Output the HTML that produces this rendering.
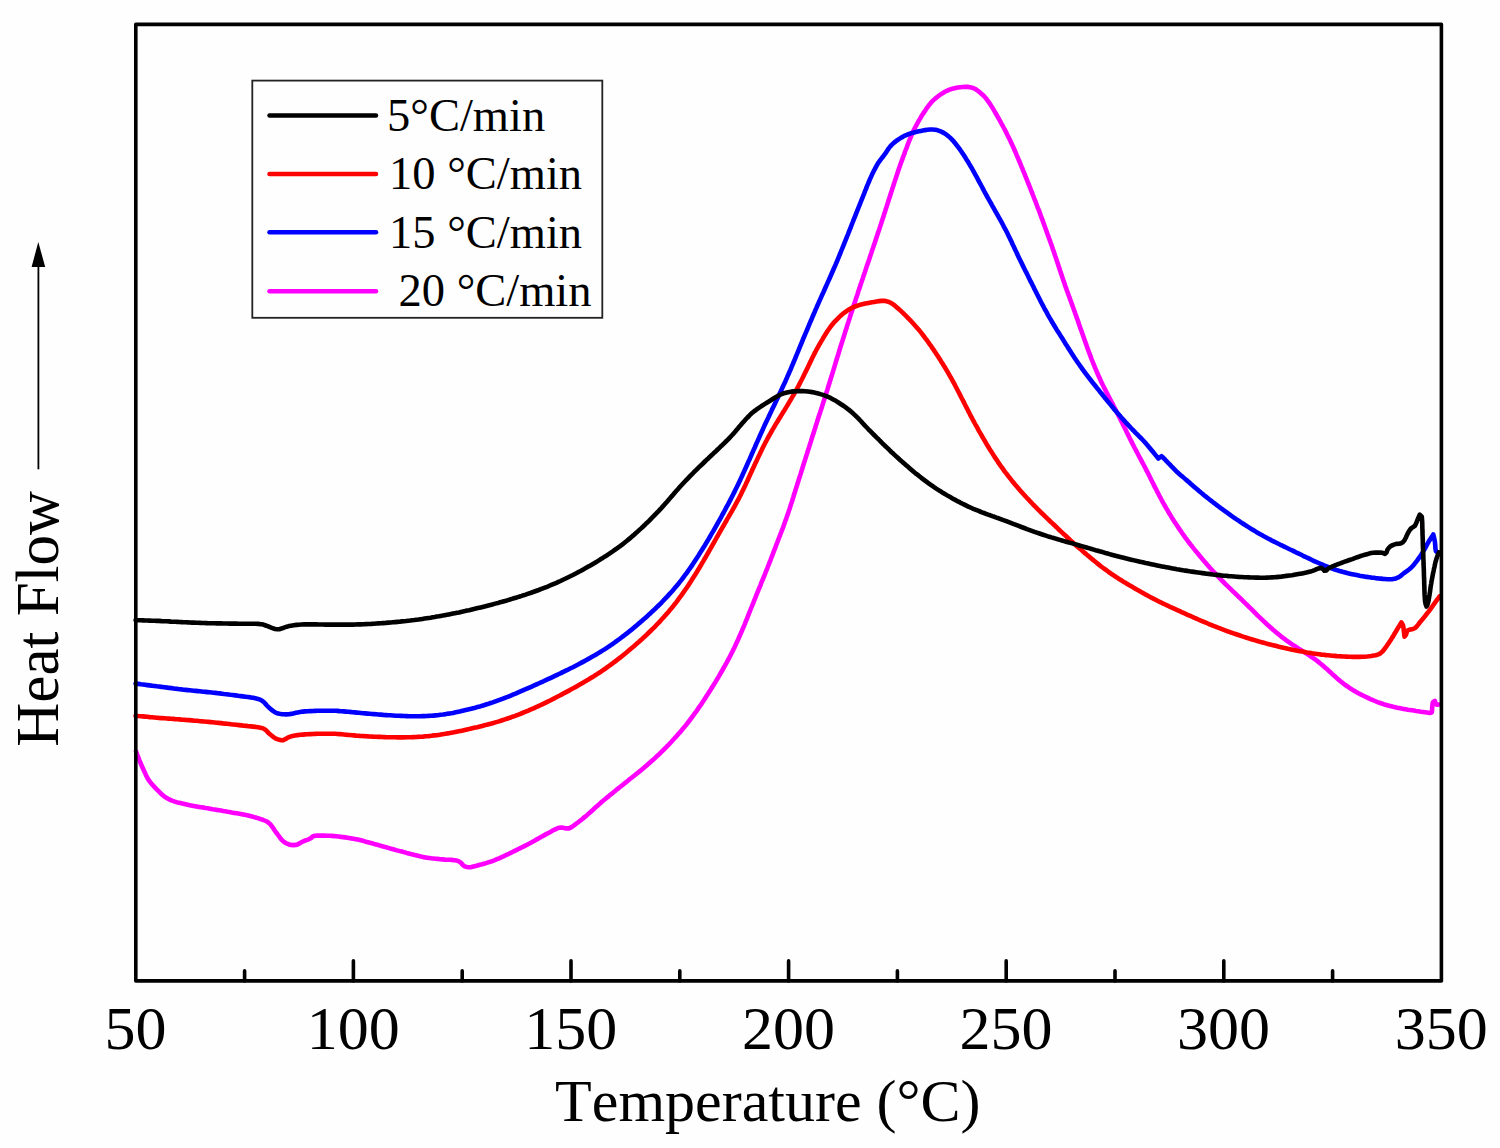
<!DOCTYPE html>
<html><head><meta charset="utf-8"><style>
html,body{margin:0;padding:0;background:#fefefe;}
svg{display:block;}
text{font-family:"Liberation Serif",serif;fill:#000;font-kerning:none;}
</style></head><body><div id="w">
<svg width="1500" height="1148" viewBox="0 0 1500 1148">
<rect x="0" y="0" width="1500" height="1148" fill="#fefefe"/>
<g fill="none" stroke-width="4.6" stroke-linejoin="round" stroke-linecap="round">
<path d="M136.0,751.3 L136.8,753.5 L137.6,755.6 L138.5,757.9 L139.3,760.0 L140.4,762.7 L141.6,765.5 L142.4,767.3 L143.3,769.3 L144.2,771.2 L145.1,773.1 L146.0,775.2 L147.0,777.1 L148.1,779.1 L149.3,780.8 L150.5,782.5 L151.8,784.1 L153.2,785.6 L154.6,787.1 L156.0,788.6 L157.5,790.1 L159.1,791.7 L160.6,793.3 L162.2,794.7 L163.8,796.1 L165.5,797.3 L168.0,798.8 L170.7,800.1 L172.8,800.9 L174.8,801.6 L177.4,802.4 L180.3,803.1 L182.4,803.6 L184.5,804.1 L186.7,804.6 L188.9,805.1 L190.9,805.5 L193.6,806.0 L196.4,806.5 L199.3,807.0 L201.3,807.3 L203.4,807.6 L205.5,808.0 L207.7,808.3 L210.0,808.7 L212.7,809.2 L214.7,809.5 L216.8,809.9 L218.9,810.2 L221.1,810.6 L223.2,811.0 L225.4,811.3 L227.5,811.7 L229.6,812.0 L231.5,812.4 L234.3,812.9 L236.7,813.3 L239.5,813.8 L241.8,814.2 L244.6,814.8 L247.2,815.3 L250.0,816.0 L252.1,816.5 L254.3,817.1 L256.5,817.8 L258.7,818.4 L260.7,819.1 L263.3,820.0 L265.7,821.0 L267.5,821.9 L269.1,823.2 L270.6,824.7 L272.4,827.0 L273.7,828.9 L274.9,830.7 L276.1,832.5 L277.4,834.2 L278.7,835.9 L280.0,837.7 L281.3,839.3 L283.3,841.3 L285.2,842.7 L287.1,843.7 L289.0,844.4 L291.1,844.9 L293.4,845.1 L295.6,844.9 L297.6,844.4 L299.5,843.4 L301.4,842.3 L303.3,841.3 L305.3,840.5 L307.3,839.8 L309.2,839.1 L311.1,838.0 L312.7,836.5 L314.8,835.8 L317.5,835.6 L319.7,835.6 L322.0,835.6 L324.1,835.6 L326.9,835.7 L329.8,835.8 L331.9,835.9 L334.0,836.1 L336.2,836.3 L338.2,836.5 L341.2,836.9 L343.2,837.1 L345.3,837.4 L347.4,837.7 L349.5,838.1 L351.6,838.4 L353.7,838.8 L355.7,839.2 L357.8,839.6 L359.8,840.1 L361.8,840.6 L363.9,841.1 L365.9,841.7 L367.9,842.2 L370.0,842.8 L372.0,843.3 L374.0,843.9 L376.1,844.4 L378.1,845.0 L380.1,845.6 L382.2,846.2 L384.2,846.8 L386.2,847.3 L388.3,847.9 L390.3,848.5 L392.2,849.0 L394.1,849.5 L396.1,850.1 L398.0,850.6 L399.9,851.1 L401.9,851.6 L403.8,852.1 L406.7,852.9 L408.7,853.4 L410.8,854.0 L412.8,854.5 L414.8,855.1 L416.9,855.6 L418.9,856.1 L420.9,856.6 L423.0,857.0 L425.0,857.4 L427.1,857.7 L429.2,858.0 L431.3,858.3 L433.4,858.5 L435.4,858.7 L437.5,858.9 L440.4,859.2 L442.5,859.4 L444.9,859.6 L447.3,859.7 L449.6,859.8 L451.7,859.9 L454.4,860.2 L456.8,860.6 L458.9,861.4 L461.4,863.2 L462.9,865.1 L464.8,866.4 L466.8,867.0 L469.1,867.3 L471.4,867.1 L474.5,866.3 L476.7,865.7 L479.1,865.0 L482.0,864.3 L484.0,863.7 L486.1,863.1 L488.2,862.4 L490.3,861.8 L492.3,861.1 L494.2,860.4 L497.0,859.2 L499.7,858.1 L501.5,857.2 L503.4,856.4 L505.2,855.5 L507.0,854.6 L508.9,853.8 L510.7,852.9 L512.5,852.0 L514.3,851.1 L516.2,850.2 L518.0,849.3 L519.8,848.4 L521.6,847.5 L523.4,846.6 L525.3,845.6 L527.1,844.7 L528.9,843.7 L530.8,842.7 L532.6,841.7 L534.5,840.7 L536.4,839.6 L538.3,838.6 L540.1,837.5 L541.9,836.5 L544.5,835.1 L546.3,834.1 L548.4,833.0 L550.4,831.9 L552.3,830.8 L554.2,829.8 L556.8,828.6 L559.2,827.7 L561.8,827.5 L564.1,827.9 L566.1,828.4 L569.0,828.4 L571.6,827.1 L573.7,825.6 L575.6,824.2 L577.9,822.5 L579.5,821.2 L581.3,819.9 L583.0,818.4 L584.9,816.9 L586.7,815.4 L588.7,813.6 L590.8,811.7 L593.1,809.7 L594.6,808.3 L596.2,806.8 L597.8,805.4 L599.4,804.0 L600.9,802.6 L602.5,801.3 L604.0,800.0 L605.6,798.7 L607.2,797.4 L608.8,796.1 L610.3,794.8 L611.9,793.6 L613.5,792.3 L615.1,791.0 L617.4,789.1 L619.7,787.3 L621.3,786.0 L622.9,784.7 L625.2,782.9 L627.6,781.0 L629.9,779.1 L632.3,777.2 L633.8,776.0 L635.4,774.7 L636.9,773.5 L639.3,771.6 L641.6,769.7 L643.9,767.8 L645.4,766.5 L646.9,765.2 L648.5,763.8 L650.0,762.5 L651.6,761.1 L653.1,759.8 L655.2,757.8 L657.4,755.7 L658.9,754.4 L660.4,753.0 L661.8,751.5 L663.3,750.1 L664.7,748.6 L666.2,747.2 L667.7,745.7 L669.1,744.2 L671.2,742.0 L673.2,739.8 L674.6,738.3 L675.9,736.9 L677.3,735.3 L678.6,733.8 L680.0,732.3 L681.3,730.7 L682.7,729.1 L684.0,727.4 L685.4,725.8 L687.2,723.5 L689.0,721.3 L690.7,718.9 L692.5,716.5 L693.7,714.9 L694.9,713.2 L696.1,711.6 L697.3,709.9 L698.5,708.1 L699.7,706.4 L701.0,704.6 L702.2,702.8 L703.3,701.1 L704.4,699.4 L705.6,697.6 L706.7,695.8 L707.9,694.0 L709.1,692.1 L710.3,690.3 L711.4,688.4 L712.6,686.6 L713.7,684.8 L714.8,683.1 L716.3,680.6 L717.7,678.2 L719.0,676.1 L720.2,673.9 L721.3,672.0 L722.8,669.5 L724.1,667.2 L725.4,664.9 L726.7,662.5 L728.1,659.9 L729.5,657.3 L730.4,655.5 L731.3,653.7 L732.3,651.8 L733.2,649.9 L734.2,648.0 L735.1,646.1 L735.9,644.3 L737.2,641.6 L738.4,638.8 L739.3,636.8 L740.1,634.9 L741.3,632.3 L742.4,629.6 L743.2,627.7 L744.1,625.7 L744.9,623.8 L745.9,621.1 L747.1,618.4 L747.8,616.4 L748.6,614.5 L749.4,612.5 L750.2,610.5 L751.0,608.5 L751.8,606.5 L752.6,604.6 L753.4,602.6 L754.1,600.7 L754.9,598.8 L755.7,596.9 L756.4,595.0 L757.2,593.1 L758.0,591.3 L758.7,589.3 L759.5,587.5 L760.3,585.6 L761.0,583.7 L761.8,581.7 L762.6,579.8 L763.4,577.9 L764.2,576.0 L765.0,574.0 L765.7,572.1 L766.5,570.2 L767.3,568.3 L768.0,566.3 L768.8,564.4 L769.5,562.5 L770.3,560.6 L771.0,558.7 L771.7,556.9 L772.5,555.0 L773.5,552.2 L774.6,549.4 L775.7,546.6 L776.7,543.8 L777.5,541.9 L778.2,540.0 L778.9,538.1 L779.7,536.2 L780.4,534.2 L781.2,532.3 L781.9,530.4 L782.7,528.4 L783.4,526.5 L784.1,524.5 L784.8,522.6 L785.5,520.6 L786.2,518.7 L787.1,516.1 L788.0,513.6 L788.8,511.1 L789.7,508.5 L790.6,505.6 L791.3,503.6 L792.0,501.4 L792.7,499.0 L793.4,496.9 L794.1,494.5 L794.9,492.0 L795.7,489.4 L796.6,486.6 L797.5,483.8 L798.1,481.8 L798.7,479.8 L799.4,477.8 L800.0,475.7 L800.7,473.7 L801.3,471.6 L802.0,469.5 L802.6,467.4 L803.3,465.3 L803.9,463.3 L804.6,461.3 L805.2,459.3 L805.8,457.3 L806.4,455.4 L807.1,453.4 L807.7,451.4 L808.3,449.4 L809.0,447.4 L809.6,445.4 L810.2,443.4 L810.9,441.4 L811.5,439.4 L812.1,437.4 L812.7,435.5 L813.4,433.6 L814.0,431.6 L814.9,428.8 L815.7,426.1 L816.6,423.4 L817.4,420.8 L818.3,418.0 L819.0,415.8 L819.7,413.8 L820.3,411.8 L821.0,409.8 L821.9,407.0 L822.7,404.3 L823.6,401.6 L824.5,398.8 L825.4,396.0 L826.0,394.1 L826.6,392.0 L827.3,389.9 L828.1,387.3 L828.9,384.7 L829.7,382.0 L830.6,379.3 L831.4,376.5 L832.3,373.7 L832.9,371.8 L833.5,369.8 L834.1,367.8 L834.7,365.8 L835.3,363.8 L835.9,361.7 L836.6,359.6 L837.2,357.5 L837.9,355.4 L838.6,353.2 L839.4,350.5 L840.2,347.8 L841.1,345.0 L842.0,342.2 L842.9,339.4 L843.5,337.5 L844.1,335.5 L844.7,333.6 L845.3,331.6 L845.9,329.7 L846.6,327.7 L847.2,325.7 L847.8,323.7 L848.5,321.7 L849.1,319.7 L849.8,317.7 L850.4,315.7 L851.0,313.8 L851.7,311.8 L852.3,309.8 L852.9,307.9 L853.6,305.9 L854.2,304.0 L854.9,301.9 L855.6,299.9 L856.2,297.9 L856.9,295.9 L857.6,293.9 L858.2,291.8 L858.9,289.8 L859.6,287.8 L860.2,285.8 L860.9,283.8 L861.6,281.8 L862.2,279.9 L862.9,277.9 L863.5,276.0 L864.5,273.2 L865.4,270.5 L866.3,267.8 L867.2,265.1 L867.8,263.2 L868.6,261.1 L869.3,259.0 L869.9,257.0 L870.6,255.0 L871.3,253.0 L871.9,251.1 L872.9,248.3 L873.8,245.6 L874.7,242.9 L875.6,240.2 L876.5,237.5 L877.4,234.8 L878.3,232.0 L879.3,229.2 L879.9,227.2 L880.6,225.3 L881.2,223.3 L881.9,221.3 L882.5,219.3 L883.2,217.3 L883.8,215.3 L884.5,213.3 L885.1,211.3 L885.7,209.3 L886.4,207.3 L887.0,205.4 L887.9,202.6 L888.8,199.8 L889.7,197.1 L890.6,194.3 L891.2,192.2 L891.9,190.2 L892.5,188.2 L893.2,186.2 L893.8,184.3 L894.4,182.4 L895.3,179.6 L896.2,176.9 L897.1,174.2 L898.0,171.5 L898.9,168.7 L899.6,166.8 L900.3,164.8 L901.0,162.7 L901.8,160.6 L902.6,158.4 L903.4,156.3 L904.2,154.2 L904.9,152.0 L905.7,150.0 L906.5,148.1 L907.5,145.3 L908.4,142.9 L909.3,140.7 L910.2,138.5 L911.3,135.9 L912.2,133.7 L913.3,131.2 L914.3,129.1 L915.5,126.8 L916.9,124.1 L917.9,122.3 L919.0,120.4 L920.1,118.6 L921.1,116.8 L922.7,114.3 L924.3,111.9 L925.6,110.0 L926.8,108.1 L928.1,106.4 L929.4,104.7 L930.7,103.1 L932.0,101.6 L933.5,100.1 L935.2,98.6 L936.9,97.2 L938.7,95.8 L940.5,94.5 L942.2,93.4 L944.9,91.8 L946.8,90.8 L949.5,89.6 L951.4,89.0 L953.5,88.4 L955.5,87.9 L957.8,87.5 L960.3,87.2 L962.7,87.0 L964.9,86.9 L967.6,86.9 L970.2,87.2 L972.9,87.9 L975.2,89.0 L977.0,90.2 L978.9,91.6 L980.8,93.2 L982.8,95.0 L984.7,96.9 L986.7,99.3 L988.8,102.2 L990.0,103.8 L991.1,105.7 L992.3,107.6 L993.7,109.9 L994.7,111.6 L995.8,113.5 L996.9,115.4 L998.1,117.5 L999.2,119.5 L1000.4,121.6 L1001.5,123.7 L1002.6,125.7 L1003.6,127.5 L1004.6,129.3 L1005.9,131.9 L1007.3,134.7 L1008.3,136.8 L1009.3,138.8 L1010.3,140.8 L1011.2,142.8 L1012.1,144.6 L1013.3,147.3 L1014.5,150.0 L1015.7,152.7 L1016.8,155.4 L1017.6,157.2 L1018.4,159.1 L1019.2,161.0 L1020.0,162.8 L1020.7,164.7 L1021.5,166.6 L1022.3,168.4 L1023.0,170.3 L1023.8,172.2 L1024.6,174.0 L1025.3,175.9 L1026.1,177.8 L1026.8,179.7 L1027.6,181.6 L1028.3,183.5 L1029.1,185.3 L1029.8,187.2 L1030.6,189.1 L1031.3,191.0 L1032.1,192.9 L1032.8,194.8 L1033.6,196.7 L1034.3,198.6 L1035.1,200.5 L1035.8,202.4 L1036.5,204.3 L1037.2,206.2 L1037.9,208.1 L1038.7,209.9 L1039.4,211.8 L1040.4,214.6 L1041.4,217.4 L1042.5,220.2 L1043.5,223.0 L1044.5,225.7 L1045.5,228.5 L1046.5,231.2 L1047.4,233.8 L1048.4,236.4 L1049.3,239.0 L1050.3,241.7 L1051.3,244.5 L1052.0,246.5 L1052.7,248.7 L1053.5,250.9 L1054.4,253.5 L1055.3,256.3 L1056.0,258.3 L1056.7,260.3 L1057.4,262.4 L1058.1,264.5 L1058.8,266.7 L1059.5,268.8 L1060.2,270.9 L1060.9,273.0 L1061.6,275.1 L1062.3,277.2 L1063.0,279.2 L1063.6,281.1 L1064.6,283.8 L1065.2,285.7 L1066.0,287.9 L1066.7,289.9 L1067.4,291.8 L1068.4,294.6 L1069.4,297.3 L1070.3,299.9 L1071.3,302.5 L1072.2,305.1 L1073.2,307.8 L1074.2,310.6 L1074.9,312.5 L1075.6,314.5 L1076.3,316.4 L1077.0,318.4 L1077.7,320.3 L1078.4,322.3 L1079.0,324.2 L1079.7,326.2 L1080.4,328.2 L1081.1,330.1 L1081.8,332.1 L1082.5,334.1 L1083.2,336.1 L1083.9,338.0 L1084.6,340.0 L1085.3,342.0 L1086.0,343.9 L1086.7,345.9 L1087.4,347.9 L1088.1,349.8 L1088.8,351.8 L1089.5,353.7 L1090.3,355.7 L1091.0,357.6 L1091.7,359.5 L1092.5,361.5 L1093.3,363.4 L1094.1,365.4 L1094.9,367.3 L1095.7,369.2 L1096.5,371.1 L1097.3,373.0 L1098.5,375.7 L1099.7,378.3 L1100.8,380.8 L1101.8,382.9 L1102.7,384.8 L1103.7,386.7 L1104.6,388.5 L1105.9,391.1 L1107.2,393.7 L1108.6,396.3 L1109.5,398.2 L1110.9,400.8 L1111.9,402.6 L1112.8,404.4 L1113.7,406.2 L1114.7,408.1 L1115.6,409.9 L1116.6,411.8 L1117.6,413.7 L1118.6,415.6 L1119.5,417.5 L1120.4,419.3 L1121.3,421.1 L1122.3,423.0 L1123.2,424.9 L1124.1,426.8 L1125.1,428.7 L1126.0,430.6 L1126.9,432.5 L1127.9,434.4 L1128.8,436.3 L1129.7,438.2 L1130.7,440.1 L1131.7,442.1 L1132.7,444.1 L1133.7,446.0 L1134.7,448.0 L1135.7,449.8 L1136.6,451.7 L1137.6,453.5 L1138.9,456.0 L1139.9,457.9 L1141.0,459.9 L1142.0,461.9 L1143.0,463.7 L1144.0,465.5 L1145.3,468.0 L1146.5,470.4 L1147.6,472.5 L1148.6,474.4 L1149.5,476.2 L1150.8,478.9 L1151.7,480.7 L1152.6,482.5 L1153.5,484.3 L1154.4,486.1 L1155.3,487.9 L1156.3,489.7 L1157.2,491.6 L1158.2,493.4 L1159.1,495.3 L1160.1,497.2 L1161.1,499.0 L1162.1,500.8 L1163.0,502.6 L1164.5,505.1 L1165.9,507.7 L1167.0,509.4 L1168.0,511.2 L1169.5,513.7 L1170.5,515.4 L1171.6,517.2 L1172.7,518.9 L1173.8,520.7 L1174.9,522.4 L1176.1,524.1 L1177.2,525.8 L1178.4,527.6 L1179.5,529.3 L1180.8,531.1 L1181.9,532.8 L1183.1,534.4 L1184.3,536.1 L1185.5,537.8 L1186.8,539.5 L1188.1,541.3 L1189.4,543.0 L1190.6,544.6 L1191.9,546.2 L1193.2,547.9 L1194.6,549.6 L1195.9,551.2 L1197.3,552.9 L1198.6,554.5 L1200.0,556.2 L1201.4,557.9 L1202.8,559.6 L1204.2,561.2 L1205.6,562.8 L1207.0,564.4 L1208.4,566.0 L1209.7,567.5 L1211.1,569.0 L1213.1,571.2 L1215.1,573.4 L1217.1,575.6 L1219.2,577.7 L1221.3,579.9 L1223.4,582.0 L1225.5,584.1 L1227.6,586.2 L1229.7,588.2 L1231.7,590.1 L1233.8,592.1 L1235.3,593.5 L1236.9,595.1 L1238.4,596.5 L1240.4,598.4 L1241.9,599.8 L1243.4,601.3 L1244.9,602.8 L1246.4,604.3 L1248.0,605.8 L1249.5,607.3 L1250.9,608.7 L1253.1,610.9 L1254.6,612.4 L1256.1,613.9 L1257.5,615.3 L1259.7,617.4 L1261.8,619.4 L1263.9,621.4 L1265.4,622.8 L1266.9,624.2 L1268.4,625.6 L1270.0,627.0 L1271.5,628.3 L1273.0,629.7 L1274.6,631.0 L1276.1,632.3 L1277.7,633.6 L1279.4,635.0 L1281.0,636.3 L1282.7,637.6 L1284.4,638.8 L1286.0,640.1 L1287.7,641.3 L1289.3,642.4 L1291.0,643.6 L1292.8,644.8 L1294.5,645.9 L1296.1,647.0 L1298.7,648.6 L1301.2,650.2 L1303.0,651.4 L1304.9,652.5 L1306.7,653.7 L1308.5,654.9 L1310.2,656.0 L1312.5,657.6 L1314.4,658.9 L1316.8,660.7 L1319.0,662.4 L1321.3,664.3 L1322.9,665.6 L1324.4,666.9 L1326.0,668.3 L1327.5,669.6 L1329.0,671.0 L1330.6,672.4 L1332.1,673.9 L1333.6,675.3 L1335.2,676.6 L1336.7,678.0 L1338.9,679.9 L1340.5,681.2 L1342.1,682.5 L1343.7,683.8 L1346.1,685.5 L1347.8,686.7 L1349.5,687.9 L1351.2,689.0 L1353.8,690.6 L1355.7,691.6 L1357.5,692.7 L1359.4,693.7 L1361.1,694.6 L1363.9,696.0 L1365.7,696.9 L1368.5,698.2 L1370.4,699.1 L1372.3,699.9 L1374.9,701.0 L1377.6,702.1 L1379.5,702.8 L1381.6,703.5 L1383.6,704.2 L1386.3,705.0 L1389.2,705.8 L1391.2,706.3 L1393.2,706.8 L1395.2,707.2 L1397.2,707.7 L1399.2,708.1 L1401.4,708.5 L1403.5,708.9 L1405.6,709.3 L1407.8,709.7 L1409.8,710.0 L1411.9,710.3 L1413.9,710.6 L1416.0,711.0 L1418.4,711.3 L1420.9,711.7 L1423.3,712.0 L1425.5,712.3 L1428.3,712.7 L1429.6,712.9 L1429.6,712.9 L1431.7,712.4 L1432.1,709.8 L1432.2,707.5 L1432.4,705.1 L1432.8,702.4 L1434.9,700.9 L1435.5,703.4 L1436.9,704.8 L1439.0,704.5" stroke="#ff00ff"/><path d="M135.6,683.6 L138.2,683.9 L140.9,684.3 L142.9,684.5 L145.0,684.8 L147.3,685.1 L149.6,685.4 L152.0,685.7 L154.4,686.0 L156.8,686.3 L158.8,686.5 L161.6,686.9 L164.5,687.2 L167.4,687.6 L169.4,687.9 L171.5,688.1 L173.5,688.4 L175.5,688.7 L177.6,688.9 L179.6,689.2 L181.7,689.4 L183.7,689.7 L185.7,689.9 L187.7,690.1 L189.7,690.3 L191.7,690.5 L193.7,690.7 L195.7,690.9 L197.7,691.1 L199.6,691.3 L201.6,691.5 L203.6,691.7 L205.6,691.9 L207.6,692.1 L209.6,692.3 L211.6,692.5 L213.6,692.7 L215.6,692.9 L217.7,693.2 L219.8,693.4 L222.0,693.7 L224.1,694.0 L226.3,694.2 L228.4,694.5 L230.5,694.8 L232.6,695.0 L235.5,695.4 L238.2,695.8 L240.7,696.1 L242.9,696.4 L245.5,696.7 L247.8,697.0 L250.7,697.4 L253.1,697.8 L255.4,698.3 L257.9,698.9 L260.6,699.9 L262.4,701.0 L264.0,702.3 L265.5,703.9 L267.1,705.7 L268.6,707.3 L270.3,708.7 L272.0,710.1 L273.7,711.4 L275.4,712.5 L277.3,713.3 L279.3,713.8 L281.3,714.1 L283.3,714.3 L285.9,714.4 L288.9,714.2 L291.0,713.9 L293.3,713.4 L295.9,712.8 L297.8,712.4 L300.1,712.0 L302.7,711.6 L305.0,711.4 L307.5,711.3 L310.2,711.1 L313.2,711.0 L315.3,710.9 L317.4,710.8 L319.6,710.8 L321.8,710.7 L324.0,710.7 L326.1,710.7 L328.3,710.7 L330.4,710.7 L333.3,710.7 L335.4,710.8 L337.5,710.9 L339.7,711.1 L341.7,711.2 L343.8,711.4 L345.8,711.6 L347.8,711.8 L349.8,711.9 L352.8,712.2 L354.8,712.4 L356.8,712.6 L358.9,712.8 L361.0,713.0 L363.1,713.2 L365.2,713.4 L367.4,713.6 L369.7,713.8 L371.8,714.0 L374.0,714.1 L376.2,714.3 L378.3,714.5 L380.3,714.6 L383.3,714.9 L386.1,715.1 L388.1,715.2 L390.2,715.3 L393.1,715.5 L395.8,715.7 L398.5,715.8 L401.3,715.9 L404.3,716.0 L406.5,716.1 L409.3,716.2 L411.3,716.2 L413.4,716.2 L415.5,716.2 L417.7,716.2 L419.9,716.2 L422.2,716.1 L424.3,716.1 L426.5,716.0 L428.6,715.9 L430.6,715.8 L433.4,715.6 L435.6,715.4 L437.6,715.2 L440.5,714.8 L443.2,714.5 L445.9,714.1 L448.7,713.6 L450.8,713.3 L453.0,712.9 L455.6,712.3 L458.5,711.7 L460.6,711.3 L462.6,710.8 L464.7,710.3 L466.9,709.8 L469.0,709.3 L471.1,708.8 L473.2,708.2 L475.2,707.7 L477.2,707.1 L480.0,706.4 L482.3,705.7 L484.6,705.0 L486.7,704.3 L488.8,703.7 L490.8,703.0 L492.7,702.4 L495.5,701.4 L498.2,700.4 L501.0,699.4 L503.0,698.7 L504.9,697.9 L507.6,696.9 L510.3,695.8 L512.9,694.7 L515.6,693.6 L518.3,692.4 L521.1,691.2 L522.9,690.4 L525.7,689.2 L527.5,688.4 L529.4,687.6 L531.2,686.8 L533.2,685.9 L535.3,684.9 L537.5,684.0 L539.6,683.0 L541.6,682.1 L543.4,681.3 L545.9,680.1 L547.9,679.2 L549.8,678.3 L552.0,677.3 L554.5,676.1 L557.1,674.9 L559.0,674.0 L560.9,673.1 L562.8,672.1 L564.9,671.1 L566.9,670.2 L568.8,669.2 L570.6,668.3 L572.9,667.2 L574.8,666.2 L576.7,665.2 L579.0,664.0 L581.6,662.6 L583.5,661.6 L585.5,660.5 L587.4,659.4 L589.4,658.4 L591.2,657.3 L593.0,656.3 L594.8,655.3 L596.6,654.2 L598.4,653.1 L600.2,652.0 L602.0,650.9 L604.5,649.4 L606.8,647.9 L608.7,646.6 L610.5,645.4 L612.8,643.8 L615.3,642.0 L617.2,640.7 L619.5,639.0 L621.8,637.2 L623.5,636.0 L625.2,634.7 L626.9,633.4 L628.6,632.0 L630.3,630.6 L632.0,629.3 L634.2,627.4 L635.8,626.1 L637.4,624.8 L638.9,623.4 L640.5,622.1 L642.1,620.7 L643.7,619.3 L645.3,617.9 L646.9,616.5 L648.4,615.1 L649.9,613.8 L651.3,612.4 L652.8,611.0 L654.3,609.6 L655.8,608.2 L657.3,606.7 L658.8,605.3 L660.3,603.8 L661.8,602.3 L663.2,600.8 L665.2,598.7 L667.2,596.6 L669.2,594.4 L671.2,592.2 L672.6,590.7 L673.9,589.1 L675.2,587.5 L676.6,585.9 L678.0,584.3 L679.7,582.1 L681.5,579.9 L683.2,577.6 L685.0,575.2 L686.8,572.8 L688.0,571.1 L689.1,569.5 L690.3,567.8 L691.5,566.1 L692.7,564.4 L693.8,562.6 L695.4,560.2 L697.0,557.7 L698.7,555.2 L699.7,553.5 L700.8,551.8 L701.9,550.1 L703.0,548.3 L704.1,546.6 L705.2,544.8 L706.2,543.0 L707.3,541.2 L708.4,539.4 L709.5,537.5 L711.0,534.9 L712.0,533.2 L713.1,531.4 L714.1,529.6 L715.2,527.7 L716.2,525.9 L717.2,524.1 L718.3,522.2 L719.3,520.4 L720.3,518.6 L721.3,516.8 L722.2,515.0 L723.7,512.5 L725.0,510.0 L725.9,508.2 L726.9,506.4 L727.9,504.6 L729.2,502.1 L730.5,499.6 L731.7,497.2 L733.0,494.7 L734.3,492.1 L735.2,490.2 L736.2,488.3 L737.2,486.3 L738.4,483.8 L739.6,481.2 L740.8,478.6 L741.7,476.7 L742.6,474.8 L743.4,472.9 L744.3,471.0 L745.2,469.0 L746.1,467.0 L747.0,465.0 L747.9,462.9 L748.8,460.9 L749.7,459.0 L750.6,456.9 L751.4,455.0 L752.3,453.1 L753.1,451.2 L753.9,449.3 L754.8,447.4 L755.6,445.5 L756.4,443.6 L757.3,441.7 L758.1,439.8 L759.0,437.9 L759.8,436.0 L760.7,434.1 L761.5,432.3 L762.7,429.6 L763.9,426.9 L765.1,424.3 L766.3,421.8 L767.5,419.2 L768.5,417.2 L769.4,415.2 L770.3,413.3 L771.2,411.4 L772.0,409.6 L773.3,407.0 L774.6,404.4 L775.8,401.8 L777.1,399.1 L778.4,396.4 L779.2,394.6 L780.1,392.7 L781.0,390.9 L781.8,389.0 L782.7,387.1 L783.5,385.3 L784.4,383.4 L785.3,381.5 L786.1,379.6 L787.0,377.7 L787.8,375.7 L788.7,373.8 L789.5,371.8 L790.4,369.9 L791.5,367.2 L792.6,364.6 L793.7,362.0 L794.8,359.4 L795.9,356.7 L797.0,354.0 L797.8,352.1 L798.6,350.2 L799.4,348.2 L800.2,346.1 L801.1,344.0 L802.0,341.8 L803.0,339.3 L804.1,336.8 L805.2,334.1 L806.4,331.4 L807.2,329.5 L808.0,327.6 L808.8,325.7 L809.6,323.7 L810.4,321.8 L811.3,319.8 L812.1,317.8 L813.0,315.8 L813.8,313.8 L814.7,311.9 L815.5,309.9 L816.4,307.9 L817.2,306.0 L818.1,304.1 L818.9,302.2 L819.7,300.4 L820.9,297.7 L822.1,294.9 L823.4,292.2 L824.6,289.5 L825.8,286.8 L827.0,284.1 L828.2,281.4 L829.4,278.7 L830.6,276.0 L831.8,273.3 L833.0,270.5 L834.2,267.8 L835.4,265.1 L836.2,263.2 L837.0,261.3 L837.8,259.3 L838.6,257.4 L839.4,255.4 L840.2,253.5 L841.0,251.5 L841.8,249.5 L842.6,247.6 L843.4,245.6 L844.2,243.7 L844.9,241.8 L845.7,239.9 L846.8,237.2 L847.9,234.5 L848.9,231.8 L849.9,229.3 L850.9,226.8 L851.7,224.7 L852.6,222.5 L853.4,220.4 L854.3,218.2 L855.1,216.2 L855.9,214.1 L856.7,212.2 L857.4,210.3 L858.5,207.7 L859.5,205.2 L860.4,202.9 L861.3,200.5 L862.3,198.2 L863.2,195.8 L864.2,193.4 L865.0,191.2 L865.9,189.1 L866.9,186.4 L868.0,183.9 L869.0,181.5 L870.0,179.0 L871.0,176.9 L871.9,174.8 L872.9,172.8 L873.8,170.9 L874.8,169.1 L876.1,166.6 L877.4,164.3 L878.5,162.6 L879.9,160.7 L881.2,158.9 L882.5,157.3 L884.1,155.1 L885.8,152.8 L887.3,150.5 L888.9,148.1 L890.3,146.4 L891.7,144.9 L893.8,142.9 L895.4,141.6 L897.3,140.2 L899.3,138.9 L901.3,137.6 L903.2,136.6 L905.0,135.6 L906.9,134.8 L908.9,134.0 L910.9,133.3 L912.9,132.8 L914.8,132.2 L916.8,131.8 L918.8,131.3 L920.8,130.9 L923.0,130.5 L925.2,130.1 L927.3,129.8 L930.1,129.5 L932.6,129.5 L935.0,129.7 L937.1,130.1 L940.0,131.1 L941.8,131.9 L944.1,133.1 L946.5,134.7 L948.3,136.1 L950.3,137.9 L951.8,139.4 L953.5,141.2 L955.2,143.3 L957.1,145.7 L958.4,147.4 L959.7,149.2 L961.0,151.0 L962.2,152.8 L963.4,154.5 L965.0,157.0 L966.0,158.7 L967.1,160.4 L968.2,162.1 L969.2,163.9 L970.3,165.7 L971.3,167.4 L972.3,169.2 L973.3,171.0 L974.3,172.7 L975.3,174.6 L976.3,176.4 L977.3,178.2 L978.3,180.1 L979.2,181.9 L980.2,183.7 L981.2,185.5 L982.2,187.3 L983.1,189.1 L984.1,191.0 L985.1,192.8 L986.1,194.6 L987.0,196.3 L988.0,198.1 L989.0,199.9 L990.0,201.6 L991.0,203.4 L992.0,205.3 L993.1,207.2 L994.2,209.1 L995.6,211.6 L996.6,213.4 L997.6,215.2 L998.7,217.1 L999.7,218.9 L1000.8,220.8 L1001.8,222.7 L1002.8,224.5 L1003.7,226.3 L1005.1,228.9 L1006.5,231.5 L1007.5,233.5 L1008.4,235.4 L1009.3,237.3 L1010.2,239.1 L1011.5,241.8 L1012.7,244.5 L1013.6,246.3 L1014.5,248.2 L1015.3,250.0 L1016.2,251.8 L1017.1,253.7 L1017.9,255.5 L1018.8,257.4 L1019.7,259.2 L1020.6,261.1 L1021.5,262.9 L1022.4,264.8 L1023.3,266.6 L1024.2,268.5 L1025.1,270.3 L1026.1,272.1 L1027.0,274.0 L1027.9,275.8 L1028.8,277.7 L1029.7,279.5 L1030.6,281.4 L1031.6,283.2 L1032.5,285.0 L1033.4,286.8 L1034.3,288.7 L1035.2,290.5 L1036.1,292.3 L1037.1,294.2 L1038.0,296.0 L1038.9,297.8 L1039.9,299.7 L1040.8,301.6 L1041.8,303.5 L1042.8,305.4 L1043.8,307.3 L1044.8,309.2 L1045.9,311.0 L1046.9,312.9 L1047.8,314.6 L1049.2,317.1 L1050.4,319.1 L1051.5,321.0 L1052.5,322.8 L1053.6,324.5 L1055.1,327.0 L1056.4,329.2 L1057.5,330.9 L1058.9,333.1 L1060.3,335.4 L1061.7,337.6 L1063.0,339.6 L1064.4,341.9 L1066.0,344.5 L1067.2,346.3 L1068.3,348.1 L1069.5,349.9 L1070.7,351.8 L1071.8,353.6 L1072.9,355.3 L1074.5,357.7 L1076.2,360.2 L1077.9,362.7 L1079.0,364.3 L1080.2,366.0 L1081.4,367.6 L1082.6,369.3 L1083.8,371.0 L1085.0,372.6 L1086.3,374.3 L1087.6,376.0 L1088.9,377.8 L1090.3,379.5 L1091.7,381.3 L1093.0,383.0 L1094.4,384.7 L1095.7,386.3 L1096.9,387.9 L1098.7,390.0 L1100.1,391.9 L1101.5,393.5 L1102.7,395.1 L1104.5,397.4 L1106.3,399.5 L1108.1,401.8 L1109.4,403.3 L1110.7,404.9 L1112.0,406.5 L1113.3,408.1 L1114.6,409.7 L1116.0,411.3 L1117.4,412.9 L1118.8,414.5 L1120.2,416.1 L1122.1,418.4 L1123.5,419.9 L1124.9,421.4 L1126.2,422.9 L1127.6,424.4 L1129.0,425.9 L1131.0,428.0 L1132.4,429.5 L1133.8,430.9 L1135.9,433.1 L1138.0,435.2 L1140.1,437.3 L1141.6,438.7 L1143.0,440.2 L1144.4,441.7 L1145.8,443.3 L1147.2,444.9 L1148.7,446.7 L1150.2,448.5 L1151.6,450.2 L1152.9,451.8 L1154.6,453.9 L1156.0,455.6 L1157.6,457.5 L1158.4,458.5 L1158.4,458.5 L1160.6,456.9 L1161.5,456.2 L1161.5,456.2 L1163.1,457.6 L1165.0,459.5 L1166.7,461.3 L1168.1,462.8 L1169.7,464.4 L1171.3,466.1 L1172.8,467.6 L1174.3,469.2 L1175.9,470.8 L1177.4,472.3 L1179.0,473.7 L1180.7,475.2 L1182.5,476.6 L1184.2,478.1 L1185.9,479.6 L1187.5,480.9 L1189.1,482.3 L1190.6,483.7 L1192.1,485.0 L1193.7,486.4 L1195.9,488.3 L1197.5,489.6 L1199.0,490.9 L1200.6,492.3 L1202.4,493.7 L1204.1,495.2 L1205.9,496.6 L1207.6,498.0 L1209.5,499.5 L1211.3,500.9 L1213.1,502.3 L1215.0,503.7 L1216.8,505.1 L1218.6,506.5 L1220.4,507.9 L1222.2,509.2 L1223.9,510.4 L1225.7,511.7 L1227.4,512.9 L1229.1,514.1 L1230.8,515.4 L1232.5,516.6 L1234.3,517.8 L1236.6,519.4 L1238.9,520.9 L1240.6,522.1 L1242.4,523.2 L1244.7,524.7 L1246.3,525.8 L1248.1,526.9 L1250.0,528.1 L1251.8,529.2 L1253.6,530.3 L1256.2,531.9 L1258.0,532.9 L1259.8,533.9 L1261.6,534.9 L1263.4,536.0 L1265.3,537.0 L1267.1,538.0 L1269.0,539.0 L1270.8,539.9 L1272.6,540.9 L1274.5,541.8 L1276.4,542.8 L1278.4,543.8 L1280.4,544.8 L1282.4,545.7 L1284.2,546.6 L1286.1,547.5 L1288.1,548.5 L1290.1,549.5 L1292.2,550.4 L1294.1,551.4 L1295.9,552.3 L1298.3,553.4 L1301.2,554.8 L1303.1,555.8 L1305.3,556.8 L1307.1,557.7 L1309.7,558.9 L1311.5,559.8 L1313.6,560.8 L1316.0,561.9 L1318.6,563.0 L1320.5,563.9 L1322.5,564.7 L1324.6,565.6 L1326.7,566.4 L1328.8,567.3 L1330.9,568.1 L1332.9,568.8 L1334.8,569.5 L1336.7,570.1 L1339.6,571.0 L1342.4,571.8 L1345.2,572.5 L1348.0,573.3 L1350.9,573.9 L1353.8,574.5 L1356.7,575.1 L1359.6,575.7 L1362.5,576.2 L1364.7,576.6 L1366.9,576.9 L1369.2,577.2 L1371.4,577.6 L1373.5,577.8 L1375.5,578.1 L1378.3,578.4 L1380.7,578.6 L1383.0,578.9 L1385.2,579.0 L1387.2,579.2 L1390.0,579.2 L1392.2,579.1 L1394.5,578.8 L1396.4,578.2 L1398.3,577.4 L1400.2,576.3 L1401.9,574.9 L1403.6,573.4 L1405.4,572.1 L1407.2,570.8 L1409.0,569.5 L1410.8,568.0 L1412.9,565.8 L1414.3,564.2 L1415.7,562.4 L1417.1,560.6 L1418.8,558.2 L1420.0,556.5 L1421.2,554.7 L1422.3,552.9 L1423.4,551.2 L1424.5,549.3 L1425.6,547.3 L1426.6,545.4 L1427.6,543.5 L1428.6,541.8 L1429.9,539.7 L1431.3,537.6 L1432.5,535.8 L1433.3,534.5 L1433.3,534.5 L1433.9,537.0 L1434.4,539.3 L1434.9,541.8 L1435.1,543.9 L1435.3,546.2 L1435.4,548.5 L1435.9,551.2 L1438.1,553.0 L1439.0,553.3" stroke="#0000ff"/><path d="M135.6,715.7 L138.2,716.0 L140.9,716.2 L142.9,716.4 L145.0,716.6 L147.3,716.8 L149.6,717.1 L152.0,717.3 L154.4,717.5 L156.8,717.7 L158.8,717.9 L161.7,718.1 L164.7,718.3 L166.8,718.5 L168.8,718.6 L170.9,718.8 L173.0,718.9 L175.2,719.1 L177.3,719.2 L179.4,719.4 L181.5,719.6 L183.6,719.7 L185.7,719.9 L188.7,720.1 L191.7,720.4 L194.7,720.7 L196.7,720.8 L198.6,721.0 L200.6,721.2 L202.6,721.4 L204.6,721.5 L206.6,721.7 L208.6,721.9 L210.6,722.1 L212.6,722.3 L214.6,722.5 L216.6,722.7 L218.7,722.9 L220.8,723.1 L222.9,723.4 L225.0,723.6 L227.1,723.8 L229.2,724.0 L231.2,724.3 L233.3,724.5 L236.2,724.8 L238.9,725.1 L241.5,725.4 L244.0,725.7 L246.4,725.9 L248.7,726.2 L250.9,726.4 L253.0,726.6 L255.8,726.9 L258.2,727.3 L261.5,727.9 L263.7,728.6 L266.1,730.3 L267.6,732.0 L269.4,733.8 L271.8,735.7 L273.6,737.1 L275.4,738.3 L277.3,739.1 L279.3,739.8 L281.3,740.2 L283.3,740.1 L285.9,738.9 L287.8,737.6 L290.3,736.6 L292.5,736.0 L295.0,735.5 L297.8,735.1 L300.1,734.8 L302.7,734.6 L305.0,734.4 L307.5,734.3 L310.2,734.1 L313.2,734.0 L315.3,733.9 L317.4,733.8 L319.6,733.8 L321.8,733.7 L324.0,733.7 L326.1,733.7 L328.3,733.7 L330.4,733.7 L333.3,733.8 L335.4,733.8 L337.5,734.0 L339.7,734.1 L341.7,734.3 L343.8,734.5 L345.8,734.7 L347.9,734.9 L349.9,735.0 L351.9,735.2 L353.9,735.4 L355.9,735.6 L358.0,735.7 L360.0,735.9 L362.0,736.0 L364.1,736.1 L366.1,736.2 L368.2,736.4 L370.2,736.5 L372.3,736.6 L374.3,736.7 L376.4,736.8 L378.4,736.9 L380.5,736.9 L382.6,737.0 L384.6,737.1 L386.7,737.2 L388.8,737.2 L390.9,737.3 L393.1,737.3 L395.3,737.3 L397.4,737.4 L399.6,737.4 L401.7,737.4 L403.8,737.4 L405.9,737.3 L407.9,737.3 L410.8,737.2 L413.6,737.1 L415.9,737.0 L418.0,736.9 L420.0,736.8 L422.9,736.6 L425.7,736.3 L428.5,736.1 L431.3,735.8 L434.1,735.4 L437.0,735.1 L439.7,734.7 L442.5,734.2 L445.4,733.8 L447.4,733.4 L449.5,733.1 L451.7,732.7 L453.8,732.3 L456.6,731.7 L458.6,731.3 L460.6,730.9 L462.7,730.5 L464.8,730.0 L467.0,729.5 L469.1,729.1 L471.2,728.6 L473.3,728.1 L475.3,727.6 L477.3,727.2 L480.0,726.5 L482.3,725.9 L484.5,725.3 L486.7,724.8 L488.7,724.2 L490.7,723.7 L492.6,723.2 L495.4,722.4 L498.1,721.6 L500.9,720.7 L503.0,720.0 L505.0,719.4 L506.9,718.7 L509.8,717.8 L512.6,716.7 L514.5,716.1 L516.5,715.3 L518.4,714.6 L520.4,713.8 L522.4,713.0 L524.4,712.2 L526.4,711.4 L528.3,710.6 L530.3,709.7 L532.2,708.9 L534.1,708.1 L536.0,707.2 L537.9,706.4 L539.7,705.5 L541.6,704.6 L544.2,703.4 L546.8,702.1 L548.7,701.2 L550.6,700.2 L553.3,698.9 L555.9,697.5 L557.8,696.5 L559.8,695.5 L562.4,694.1 L564.2,693.1 L566.1,692.1 L568.0,691.1 L569.9,690.1 L571.8,689.0 L573.7,688.0 L575.6,686.9 L577.4,685.9 L579.3,684.8 L581.2,683.8 L583.0,682.7 L584.9,681.6 L586.7,680.5 L588.5,679.5 L590.4,678.3 L592.2,677.2 L593.9,676.2 L595.7,675.0 L597.5,673.9 L599.2,672.8 L601.0,671.6 L602.7,670.4 L604.4,669.3 L606.0,668.1 L607.7,666.9 L609.5,665.7 L611.2,664.4 L612.9,663.1 L614.6,661.9 L616.2,660.6 L617.8,659.4 L620.1,657.6 L621.8,656.3 L624.0,654.5 L626.2,652.7 L628.5,650.8 L630.2,649.3 L631.8,648.0 L633.9,646.3 L636.0,644.4 L637.5,643.0 L639.1,641.7 L640.6,640.3 L642.2,638.9 L643.7,637.4 L645.3,636.0 L646.8,634.6 L648.9,632.5 L651.0,630.5 L653.2,628.4 L655.3,626.3 L656.7,624.8 L658.1,623.3 L659.5,621.9 L660.9,620.3 L662.3,618.8 L664.3,616.6 L666.2,614.4 L668.2,612.2 L669.5,610.6 L670.8,609.1 L672.1,607.5 L673.4,605.9 L674.7,604.2 L676.0,602.6 L677.3,600.9 L678.5,599.2 L680.2,596.9 L681.9,594.6 L683.6,592.2 L685.3,589.7 L686.5,588.1 L687.6,586.4 L688.7,584.7 L689.9,582.9 L691.0,581.2 L692.1,579.4 L693.3,577.7 L694.3,575.9 L695.9,573.4 L697.0,571.7 L698.0,570.0 L699.1,568.2 L700.1,566.5 L701.2,564.7 L702.2,562.9 L703.3,561.1 L704.3,559.3 L705.4,557.5 L706.5,555.6 L707.5,553.8 L708.6,552.0 L709.6,550.1 L710.6,548.4 L711.6,546.6 L712.6,544.8 L713.7,543.0 L714.7,541.2 L715.7,539.3 L716.7,537.5 L717.8,535.7 L718.8,533.9 L719.8,532.1 L720.8,530.3 L721.8,528.6 L723.3,526.0 L724.7,523.6 L726.2,521.0 L727.3,519.0 L728.4,517.1 L729.5,515.3 L730.5,513.5 L731.6,511.7 L732.5,510.0 L734.0,507.4 L735.4,504.8 L736.8,502.2 L738.2,499.7 L739.2,497.8 L740.1,495.9 L741.1,494.0 L742.0,492.1 L742.9,490.3 L743.8,488.4 L744.7,486.5 L745.6,484.7 L746.4,482.8 L747.3,481.0 L748.5,478.3 L749.3,476.5 L750.2,474.6 L751.0,472.7 L751.9,470.9 L752.7,469.0 L754.0,466.3 L755.2,463.6 L756.5,460.9 L757.8,458.1 L758.7,456.2 L759.7,454.2 L760.6,452.2 L761.6,450.2 L762.5,448.3 L763.4,446.5 L764.7,444.0 L765.8,441.8 L766.8,440.0 L768.1,437.5 L770.2,433.8 L771.5,431.5 L772.7,429.4 L774.2,427.0 L775.2,425.2 L776.3,423.3 L777.5,421.4 L778.8,419.3 L780.1,417.2 L781.4,415.1 L782.7,412.9 L784.1,410.8 L785.4,408.6 L786.6,406.6 L787.9,404.5 L789.0,402.6 L790.1,400.8 L791.1,399.1 L792.5,396.7 L793.7,394.7 L795.2,391.9 L796.5,389.6 L797.6,387.7 L798.8,385.4 L799.8,383.4 L800.9,381.3 L802.2,378.8 L803.1,377.0 L804.0,375.1 L804.9,373.2 L805.8,371.4 L806.7,369.6 L808.0,366.9 L809.3,364.1 L810.3,362.1 L811.2,360.2 L812.1,358.3 L813.0,356.5 L813.9,354.7 L814.8,352.9 L816.2,350.2 L817.2,348.5 L818.2,346.7 L819.2,344.9 L820.2,343.1 L821.2,341.4 L822.3,339.6 L823.3,337.8 L824.4,336.1 L825.5,334.3 L826.6,332.5 L827.7,330.8 L829.3,328.5 L830.6,326.7 L831.9,325.0 L833.3,323.3 L834.6,321.8 L836.5,319.8 L838.0,318.3 L839.4,316.9 L841.5,315.0 L843.8,313.1 L846.2,311.4 L847.9,310.2 L849.8,309.0 L851.9,307.9 L853.8,307.0 L856.4,306.0 L859.2,305.1 L861.2,304.6 L863.2,304.1 L865.2,303.6 L867.2,303.2 L869.5,302.7 L872.0,302.3 L874.3,301.9 L876.5,301.5 L879.3,301.1 L881.5,300.9 L883.6,300.8 L886.1,301.1 L889.0,302.0 L891.3,303.1 L893.2,304.4 L895.2,305.9 L897.5,307.9 L899.1,309.3 L900.8,310.9 L902.9,312.9 L904.4,314.4 L906.0,315.9 L907.5,317.5 L909.1,319.1 L910.7,320.7 L912.1,322.3 L914.1,324.5 L916.1,326.7 L917.4,328.2 L918.8,329.8 L920.1,331.4 L921.5,333.1 L923.3,335.5 L924.5,337.1 L925.8,338.8 L927.1,340.5 L928.4,342.3 L929.6,344.1 L930.9,345.8 L932.1,347.6 L933.3,349.3 L934.4,351.0 L935.6,352.8 L936.7,354.5 L937.9,356.3 L939.0,358.0 L940.2,359.8 L941.3,361.7 L942.5,363.5 L943.6,365.3 L944.7,367.0 L945.8,368.9 L946.9,370.7 L948.0,372.6 L949.0,374.4 L950.1,376.3 L951.1,378.0 L952.5,380.6 L953.5,382.4 L954.5,384.2 L955.8,386.7 L957.1,389.2 L958.4,391.7 L959.4,393.6 L960.4,395.6 L961.6,398.0 L963.0,400.6 L963.9,402.4 L964.8,404.3 L965.8,406.2 L966.8,408.1 L967.8,410.0 L968.7,411.9 L969.7,413.8 L970.6,415.6 L971.6,417.4 L972.6,419.3 L973.6,421.1 L974.6,423.0 L975.6,424.8 L976.6,426.5 L977.6,428.3 L978.5,430.1 L979.5,431.8 L981.0,434.4 L982.0,436.2 L983.1,438.0 L984.1,439.8 L985.2,441.6 L986.2,443.4 L987.3,445.2 L988.4,447.0 L989.4,448.7 L990.5,450.4 L991.6,452.1 L992.7,453.9 L993.9,455.8 L995.1,457.6 L996.3,459.4 L997.4,461.1 L998.6,462.9 L999.8,464.6 L1001.0,466.3 L1002.2,467.9 L1003.4,469.6 L1004.6,471.3 L1005.8,472.9 L1007.1,474.5 L1008.3,476.1 L1010.1,478.4 L1011.9,480.7 L1013.8,483.0 L1015.2,484.7 L1016.6,486.3 L1017.9,487.9 L1019.3,489.4 L1020.6,490.9 L1022.0,492.5 L1024.0,494.7 L1025.4,496.3 L1026.8,497.8 L1028.2,499.2 L1030.2,501.4 L1032.2,503.5 L1033.6,505.0 L1035.0,506.4 L1036.5,507.9 L1037.9,509.3 L1039.3,510.7 L1041.4,512.8 L1042.9,514.2 L1044.4,515.7 L1045.9,517.1 L1047.4,518.6 L1048.9,520.0 L1050.4,521.5 L1051.9,522.9 L1053.4,524.3 L1055.0,525.8 L1056.5,527.2 L1058.0,528.7 L1059.6,530.2 L1061.1,531.6 L1062.7,533.1 L1064.3,534.6 L1065.9,536.0 L1067.4,537.5 L1069.0,539.0 L1070.5,540.4 L1072.1,541.8 L1074.2,543.7 L1076.4,545.7 L1078.1,547.2 L1080.0,548.8 L1082.1,550.6 L1084.3,552.6 L1085.9,553.9 L1087.6,555.4 L1089.3,556.8 L1091.0,558.2 L1092.7,559.6 L1094.4,561.0 L1096.0,562.3 L1097.6,563.6 L1099.2,564.9 L1101.5,566.7 L1103.9,568.5 L1106.3,570.2 L1108.7,572.0 L1111.1,573.7 L1113.6,575.3 L1116.1,577.0 L1117.8,578.1 L1119.5,579.2 L1121.3,580.3 L1123.0,581.4 L1124.8,582.4 L1126.5,583.5 L1129.0,585.0 L1130.8,586.0 L1132.7,587.1 L1134.5,588.2 L1136.3,589.3 L1138.1,590.3 L1139.9,591.3 L1141.6,592.3 L1143.4,593.3 L1145.1,594.3 L1147.0,595.2 L1148.8,596.2 L1150.6,597.2 L1152.4,598.2 L1154.3,599.1 L1156.1,600.0 L1157.9,601.0 L1159.7,601.9 L1161.5,602.7 L1163.3,603.6 L1165.2,604.5 L1167.0,605.4 L1168.8,606.2 L1170.6,607.1 L1172.4,607.9 L1175.2,609.2 L1177.9,610.4 L1179.7,611.2 L1181.6,612.1 L1183.4,612.9 L1185.3,613.7 L1187.1,614.6 L1189.0,615.4 L1190.8,616.2 L1192.7,617.0 L1194.5,617.9 L1196.4,618.7 L1198.3,619.5 L1200.2,620.3 L1202.0,621.1 L1203.9,621.9 L1205.8,622.7 L1207.7,623.5 L1209.6,624.3 L1211.6,625.1 L1213.5,625.9 L1215.5,626.6 L1217.4,627.4 L1219.4,628.1 L1221.3,628.9 L1223.2,629.6 L1225.1,630.3 L1227.7,631.3 L1230.2,632.2 L1232.9,633.1 L1234.8,633.8 L1236.9,634.5 L1239.3,635.3 L1241.6,636.1 L1244.0,636.9 L1246.6,637.7 L1249.4,638.6 L1251.3,639.2 L1253.3,639.8 L1255.3,640.4 L1257.3,641.0 L1259.4,641.6 L1261.6,642.2 L1263.7,642.8 L1265.9,643.4 L1267.9,643.9 L1270.0,644.4 L1272.1,645.0 L1274.3,645.5 L1276.6,646.1 L1278.9,646.7 L1281.2,647.2 L1283.5,647.8 L1285.7,648.3 L1287.9,648.8 L1290.1,649.2 L1292.1,649.7 L1294.9,650.3 L1297.5,650.8 L1299.7,651.2 L1302.2,651.6 L1304.8,652.1 L1307.0,652.5 L1309.2,652.8 L1312.1,653.3 L1315.0,653.7 L1317.1,654.0 L1319.3,654.3 L1321.5,654.6 L1323.7,654.8 L1325.9,655.1 L1328.1,655.3 L1330.3,655.5 L1332.5,655.7 L1334.7,655.9 L1336.8,656.1 L1338.9,656.2 L1341.8,656.4 L1344.1,656.5 L1346.2,656.6 L1348.3,656.7 L1350.4,656.8 L1352.4,656.9 L1355.4,656.9 L1357.5,656.9 L1359.7,656.9 L1361.9,656.8 L1363.9,656.7 L1366.9,656.5 L1369.0,656.3 L1371.4,656.0 L1373.6,655.6 L1375.7,655.2 L1378.4,654.4 L1380.4,653.4 L1382.7,651.3 L1384.1,649.5 L1385.9,647.2 L1387.2,645.3 L1388.5,643.4 L1389.7,641.5 L1390.9,639.7 L1392.0,637.9 L1393.2,636.1 L1394.2,634.3 L1395.3,632.5 L1396.8,630.0 L1397.9,628.1 L1399.4,625.8 L1400.6,623.8 L1401.4,622.5 L1401.4,622.5 L1403.0,625.1 L1403.5,627.9 L1403.8,630.4 L1404.1,632.9 L1404.3,635.1 L1404.5,636.6 L1404.5,636.6 L1406.1,634.5 L1406.7,632.3 L1407.7,630.3 L1409.7,629.6 L1411.9,629.3 L1415.0,628.2 L1416.8,626.3 L1418.2,624.6 L1419.5,622.8 L1420.8,621.2 L1422.7,619.0 L1424.0,617.4 L1425.4,615.7 L1427.2,613.3 L1428.6,611.6 L1429.9,609.8 L1431.1,608.1 L1432.4,606.3 L1433.8,604.3 L1435.2,602.4 L1436.4,600.7 L1437.8,598.8 L1439.2,597.0 L1439.6,596.4" stroke="#ff0000"/><path d="M135.6,620.2 L138.2,620.3 L140.9,620.3 L142.9,620.4 L145.0,620.5 L147.3,620.5 L149.6,620.6 L152.0,620.7 L154.4,620.8 L156.8,620.9 L158.8,620.9 L161.7,621.1 L164.7,621.2 L166.8,621.3 L168.8,621.4 L170.9,621.6 L173.0,621.7 L175.2,621.8 L177.3,621.9 L179.4,622.0 L181.5,622.1 L183.6,622.2 L185.7,622.3 L187.8,622.4 L189.8,622.5 L191.9,622.6 L194.0,622.6 L196.0,622.7 L198.1,622.8 L200.2,622.9 L202.2,623.0 L204.3,623.0 L206.4,623.1 L208.4,623.2 L210.5,623.2 L212.6,623.3 L214.6,623.3 L216.8,623.4 L218.9,623.4 L221.1,623.4 L223.3,623.5 L225.4,623.5 L227.6,623.5 L229.8,623.6 L231.9,623.6 L234.0,623.6 L236.0,623.6 L238.8,623.7 L241.5,623.7 L244.0,623.7 L246.4,623.7 L248.7,623.8 L250.8,623.8 L252.9,623.8 L255.6,623.8 L258.1,623.9 L261.2,624.2 L263.4,624.6 L265.7,625.5 L267.6,626.2 L269.7,627.0 L271.8,627.9 L275.0,629.0 L277.2,629.3 L279.3,629.2 L282.2,628.3 L284.1,627.6 L286.7,626.7 L288.9,626.1 L291.1,625.7 L293.7,625.3 L296.6,624.9 L298.8,624.7 L301.3,624.5 L304.2,624.4 L306.7,624.4 L309.4,624.3 L312.3,624.4 L314.4,624.4 L316.5,624.4 L318.6,624.5 L320.9,624.5 L323.1,624.5 L325.4,624.6 L327.8,624.6 L330.2,624.6 L332.9,624.6 L335.8,624.6 L337.8,624.6 L339.9,624.6 L342.1,624.6 L344.4,624.6 L346.7,624.6 L348.9,624.6 L351.1,624.6 L353.2,624.6 L355.2,624.5 L358.1,624.4 L360.7,624.4 L363.6,624.2 L365.9,624.1 L368.7,624.0 L371.2,623.9 L373.6,623.7 L376.3,623.5 L378.4,623.4 L380.4,623.3 L383.0,623.1 L385.8,622.9 L388.7,622.6 L390.8,622.5 L392.9,622.3 L395.1,622.1 L397.3,621.9 L399.5,621.7 L401.7,621.4 L403.9,621.2 L406.0,621.0 L408.2,620.7 L410.2,620.5 L412.3,620.2 L414.3,620.0 L416.4,619.7 L418.4,619.5 L420.5,619.2 L422.5,618.9 L424.5,618.6 L426.6,618.3 L428.6,618.0 L430.6,617.7 L432.6,617.3 L434.6,617.0 L436.7,616.6 L438.7,616.3 L440.7,615.9 L442.7,615.6 L444.8,615.2 L446.8,614.8 L448.8,614.4 L450.9,614.0 L452.9,613.6 L454.9,613.2 L457.0,612.8 L459.0,612.4 L461.0,611.9 L463.0,611.5 L465.1,611.1 L467.1,610.6 L469.1,610.2 L472.0,609.5 L474.9,608.8 L477.8,608.1 L480.7,607.4 L483.6,606.7 L486.5,606.0 L488.4,605.5 L490.4,605.0 L492.3,604.5 L494.3,603.9 L496.2,603.4 L498.2,602.9 L500.1,602.3 L502.1,601.8 L504.1,601.2 L506.0,600.7 L508.0,600.1 L510.0,599.5 L511.9,598.9 L513.9,598.3 L515.9,597.7 L517.8,597.1 L519.8,596.5 L521.7,595.9 L523.7,595.2 L525.7,594.6 L527.6,593.9 L530.4,593.0 L533.2,592.0 L535.9,591.0 L538.7,590.0 L541.5,588.9 L544.2,587.9 L547.0,586.8 L548.9,586.0 L550.8,585.2 L552.7,584.4 L554.6,583.6 L556.5,582.8 L558.4,581.9 L560.5,581.0 L562.5,580.0 L564.6,579.0 L566.7,578.0 L568.8,577.0 L570.8,576.0 L572.9,575.0 L574.8,574.0 L576.7,573.0 L578.5,572.0 L581.0,570.7 L583.3,569.4 L585.3,568.3 L587.9,566.8 L589.9,565.7 L592.1,564.4 L594.2,563.2 L595.9,562.2 L597.7,561.1 L600.1,559.6 L601.8,558.6 L603.6,557.4 L605.4,556.3 L607.2,555.1 L609.1,553.8 L610.9,552.6 L612.7,551.4 L614.4,550.2 L616.1,549.0 L617.7,547.8 L620.1,546.1 L622.5,544.3 L624.8,542.5 L627.0,540.7 L628.6,539.4 L630.2,538.1 L631.7,536.7 L633.3,535.4 L634.9,534.0 L636.5,532.6 L638.1,531.1 L639.7,529.6 L641.4,528.1 L642.9,526.7 L644.4,525.3 L646.5,523.2 L648.8,521.1 L650.5,519.3 L652.1,517.7 L653.6,516.2 L655.6,514.1 L657.5,512.2 L659.0,510.6 L660.6,508.9 L661.9,507.4 L663.3,505.9 L664.7,504.3 L666.6,502.2 L667.9,500.7 L669.3,499.1 L670.7,497.4 L672.1,495.9 L673.5,494.2 L674.9,492.6 L676.4,490.8 L677.9,489.2 L679.3,487.6 L680.7,486.0 L682.1,484.5 L683.5,483.0 L684.9,481.5 L686.3,480.0 L687.7,478.6 L689.1,477.1 L690.5,475.6 L692.0,474.2 L693.4,472.7 L694.8,471.3 L696.3,469.9 L697.8,468.4 L699.3,466.9 L700.8,465.5 L702.4,464.0 L703.9,462.5 L705.4,461.0 L706.9,459.6 L708.5,458.2 L710.0,456.7 L711.5,455.3 L713.0,453.9 L714.5,452.4 L716.1,451.0 L717.6,449.5 L719.1,448.1 L720.6,446.6 L722.2,445.2 L724.3,443.1 L726.4,441.0 L727.9,439.6 L729.3,438.1 L730.8,436.5 L732.2,435.0 L733.6,433.4 L735.1,431.7 L736.5,430.0 L737.9,428.4 L739.2,426.8 L740.6,425.2 L742.0,423.5 L743.4,421.9 L745.4,419.7 L747.5,417.5 L749.0,416.0 L750.4,414.5 L752.0,413.1 L753.6,411.7 L755.3,410.5 L757.0,409.2 L758.9,407.9 L760.7,406.7 L762.4,405.5 L765.0,403.9 L766.8,402.8 L768.9,401.5 L770.8,400.3 L773.1,398.8 L775.6,397.2 L777.6,396.1 L779.7,395.0 L781.9,394.0 L784.1,393.2 L786.8,392.5 L789.6,391.9 L791.6,391.6 L793.8,391.4 L796.1,391.2 L798.3,391.1 L800.6,391.1 L802.8,391.1 L804.8,391.2 L807.8,391.5 L809.9,391.8 L812.0,392.1 L814.1,392.5 L816.2,393.0 L818.3,393.5 L820.3,394.1 L823.0,394.9 L825.5,395.8 L827.7,396.7 L829.8,397.6 L831.8,398.7 L833.7,399.7 L836.2,401.1 L838.4,402.5 L841.0,404.2 L843.0,405.5 L844.7,406.7 L847.0,408.4 L848.6,409.6 L850.2,410.9 L851.8,412.2 L853.3,413.6 L854.9,415.1 L856.5,416.7 L858.0,418.2 L859.5,419.7 L861.0,421.3 L862.5,423.0 L864.0,424.6 L865.5,426.2 L867.0,427.8 L868.4,429.3 L869.8,430.7 L871.3,432.2 L872.7,433.6 L874.1,435.0 L875.5,436.4 L877.0,437.9 L878.5,439.3 L879.9,440.8 L881.4,442.2 L882.8,443.7 L884.3,445.1 L885.7,446.5 L887.2,447.9 L888.7,449.3 L890.1,450.8 L891.6,452.2 L893.2,453.6 L894.8,455.1 L896.4,456.6 L898.0,458.0 L899.6,459.5 L901.2,460.9 L902.8,462.4 L904.5,463.8 L906.1,465.2 L907.7,466.6 L909.3,468.0 L910.9,469.4 L912.5,470.7 L914.0,472.0 L916.3,473.9 L918.7,475.7 L921.0,477.6 L923.3,479.4 L925.7,481.2 L928.0,482.9 L930.4,484.6 L932.7,486.2 L934.4,487.4 L936.2,488.6 L938.6,490.1 L940.4,491.2 L942.2,492.4 L944.1,493.5 L945.9,494.6 L948.4,496.1 L950.6,497.3 L952.5,498.4 L954.3,499.4 L956.2,500.4 L958.0,501.4 L960.0,502.4 L962.0,503.5 L963.9,504.4 L965.9,505.4 L967.8,506.3 L969.6,507.2 L971.5,508.0 L973.3,508.8 L976.0,509.9 L978.0,510.7 L980.0,511.5 L982.0,512.3 L984.0,513.0 L986.0,513.8 L988.1,514.6 L990.2,515.3 L992.3,516.1 L994.4,516.8 L996.5,517.6 L998.6,518.3 L1000.7,519.1 L1002.7,519.9 L1004.8,520.6 L1007.6,521.7 L1009.5,522.4 L1011.4,523.1 L1013.2,523.8 L1016.0,524.9 L1018.7,525.9 L1021.4,527.0 L1024.2,528.0 L1026.9,529.1 L1029.7,530.1 L1032.5,531.1 L1034.6,531.9 L1036.7,532.6 L1038.8,533.3 L1040.9,534.0 L1043.0,534.7 L1045.1,535.4 L1047.2,536.1 L1049.3,536.7 L1051.4,537.4 L1053.6,538.0 L1055.7,538.6 L1057.8,539.3 L1059.9,539.9 L1061.9,540.5 L1064.0,541.1 L1066.1,541.7 L1068.1,542.3 L1070.3,542.9 L1073.0,543.6 L1075.8,544.4 L1077.8,545.0 L1080.2,545.7 L1082.7,546.4 L1085.6,547.2 L1087.5,547.8 L1089.6,548.4 L1091.6,549.0 L1093.7,549.6 L1095.7,550.2 L1097.7,550.7 L1099.6,551.3 L1101.5,551.8 L1103.5,552.4 L1105.5,553.0 L1107.5,553.5 L1109.5,554.1 L1111.6,554.7 L1114.5,555.5 L1116.4,556.0 L1118.4,556.5 L1120.4,557.0 L1122.5,557.5 L1124.5,558.0 L1126.4,558.5 L1129.3,559.2 L1132.3,559.9 L1134.2,560.4 L1137.1,561.1 L1139.9,561.7 L1142.7,562.3 L1145.6,563.0 L1148.4,563.6 L1151.3,564.2 L1154.2,564.8 L1157.1,565.4 L1160.0,566.0 L1162.0,566.4 L1164.1,566.8 L1166.2,567.2 L1168.3,567.6 L1170.4,568.0 L1172.6,568.4 L1174.7,568.8 L1176.8,569.2 L1178.9,569.5 L1181.1,569.9 L1183.2,570.3 L1185.4,570.6 L1187.5,570.9 L1189.6,571.3 L1191.7,571.6 L1193.9,571.9 L1196.0,572.2 L1198.1,572.5 L1200.2,572.8 L1202.4,573.1 L1204.5,573.4 L1206.6,573.7 L1208.7,573.9 L1210.8,574.2 L1212.9,574.5 L1214.9,574.7 L1217.0,574.9 L1219.0,575.1 L1221.1,575.4 L1223.1,575.6 L1226.0,575.8 L1228.7,576.1 L1231.3,576.3 L1234.2,576.5 L1236.5,576.7 L1239.1,576.9 L1241.7,577.0 L1244.6,577.2 L1246.7,577.3 L1248.8,577.4 L1251.1,577.5 L1253.4,577.5 L1255.7,577.6 L1258.0,577.6 L1260.2,577.7 L1262.4,577.7 L1264.4,577.7 L1267.3,577.6 L1269.5,577.5 L1271.9,577.4 L1274.1,577.3 L1276.4,577.1 L1278.5,576.9 L1281.3,576.6 L1284.0,576.2 L1286.4,575.9 L1289.5,575.5 L1292.2,575.2 L1294.3,574.8 L1297.1,574.3 L1300.0,573.8 L1302.2,573.4 L1304.3,573.0 L1306.4,572.6 L1308.4,572.1 L1310.5,571.6 L1312.5,570.9 L1314.6,570.1 L1316.6,569.2 L1318.5,568.5 L1320.9,567.9 L1323.0,569.0 L1324.4,570.8 L1326.4,570.4 L1327.9,568.8 L1330.0,567.6 L1332.6,566.4 L1334.6,565.5 L1336.8,564.7 L1338.9,563.8 L1340.9,563.1 L1342.8,562.3 L1344.8,561.6 L1346.7,561.0 L1349.5,560.0 L1352.3,559.1 L1354.2,558.4 L1356.1,557.7 L1358.0,557.0 L1359.9,556.3 L1362.7,555.4 L1364.8,554.8 L1366.9,554.2 L1369.1,553.6 L1371.2,553.1 L1373.2,552.8 L1375.5,552.6 L1377.8,552.6 L1380.0,552.6 L1382.6,552.8 L1385.0,553.9 L1386.6,552.3 L1387.3,550.0 L1388.5,548.2 L1389.9,546.7 L1391.8,545.5 L1394.0,544.6 L1396.2,543.9 L1398.7,543.7 L1400.9,543.4 L1402.8,542.2 L1404.5,540.2 L1405.9,537.5 L1406.8,535.4 L1407.7,533.5 L1408.9,531.4 L1410.1,529.5 L1411.6,528.0 L1413.4,526.9 L1415.0,525.6 L1416.3,523.0 L1417.1,520.9 L1418.0,518.7 L1419.0,516.3 L1419.7,514.6 L1419.7,514.6 L1421.8,516.7 L1422.0,519.3 L1422.2,521.9 L1422.3,524.8 L1422.3,526.9 L1422.4,529.1 L1422.5,531.3 L1422.5,533.7 L1422.6,536.0 L1422.7,538.3 L1422.8,540.7 L1422.8,542.7 L1422.9,545.6 L1423.0,548.6 L1423.1,550.6 L1423.2,552.7 L1423.3,554.8 L1423.3,556.9 L1423.4,559.0 L1423.5,561.1 L1423.5,563.2 L1423.6,565.3 L1423.7,567.4 L1423.8,569.4 L1423.9,572.3 L1423.9,574.3 L1424.0,576.6 L1424.1,578.8 L1424.2,581.1 L1424.2,583.4 L1424.3,585.6 L1424.4,587.8 L1424.4,589.9 L1424.5,591.9 L1424.6,594.7 L1424.8,597.2 L1424.9,599.3 L1425.1,601.4 L1425.6,604.1 L1426.4,606.1 L1426.5,606.6 L1426.5,606.6 L1427.4,604.7 L1428.2,602.3 L1428.7,599.7 L1429.1,597.3 L1429.6,594.4 L1429.9,592.4 L1430.2,590.2 L1430.5,588.0 L1430.8,585.8 L1431.2,583.6 L1431.5,581.5 L1431.9,579.5 L1432.3,577.4 L1432.7,575.3 L1433.1,573.1 L1433.6,570.9 L1434.0,568.8 L1434.5,566.7 L1435.1,563.8 L1435.7,561.3 L1436.4,559.0 L1437.3,556.3 L1438.1,554.3 L1439.0,552.3" stroke="#000000"/>
</g>
<g stroke="#000" stroke-width="3.6" stroke-linecap="round" fill="none">
<rect x="135.8" y="24.4" width="1305.6" height="956.5" stroke-linejoin="round"/>
<line x1="244.6" y1="980.9" x2="244.6" y2="970.9"/><line x1="353.4" y1="980.9" x2="353.4" y2="960.9"/><line x1="462.2" y1="980.9" x2="462.2" y2="970.9"/><line x1="571.0" y1="980.9" x2="571.0" y2="960.9"/><line x1="679.8" y1="980.9" x2="679.8" y2="970.9"/><line x1="788.6" y1="980.9" x2="788.6" y2="960.9"/><line x1="897.4" y1="980.9" x2="897.4" y2="970.9"/><line x1="1006.2" y1="980.9" x2="1006.2" y2="960.9"/><line x1="1115.0" y1="980.9" x2="1115.0" y2="970.9"/><line x1="1223.8" y1="980.9" x2="1223.8" y2="960.9"/><line x1="1332.6" y1="980.9" x2="1332.6" y2="970.9"/>
</g>
<rect x="252.3" y="80.6" width="350" height="237.2" fill="#fefefe" stroke="#222" stroke-width="1.8"/>
<g stroke-width="4.5" stroke-linecap="round">
<line x1="269.5" y1="115.6" x2="376" y2="115.6" stroke="#000"/>
<line x1="269.5" y1="174" x2="376" y2="174" stroke="#ff0000"/>
<line x1="269.5" y1="232.2" x2="376" y2="232.2" stroke="#0000ff"/>
<line x1="269.5" y1="291.2" x2="376" y2="291.2" stroke="#ff00ff"/>
</g>
<g font-size="46.5">
<text x="387.1" y="130.8">5°C/min</text>
<text x="389.1" y="189.3">10 °C/min</text>
<text x="389.1" y="247.8">15 °C/min</text>
<text x="398.5" y="306.3">20 °C/min</text>
</g>
<g font-size="62">
<text x="135.6" y="1048.6" text-anchor="middle">50</text><text x="353.2" y="1048.6" text-anchor="middle">100</text><text x="570.8" y="1048.6" text-anchor="middle">150</text><text x="788.4" y="1048.6" text-anchor="middle">200</text><text x="1006.0" y="1048.6" text-anchor="middle">250</text><text x="1223.6" y="1048.6" text-anchor="middle">300</text><text x="1441.2" y="1048.6" text-anchor="middle">350</text>
</g>
<text x="555.1" y="1121.2" font-size="60">Temperature (°C)</text>
<text transform="translate(58.3,746.7) rotate(-90)" font-size="61">Heat Flow</text>
<line x1="38.4" y1="262" x2="38.4" y2="469.3" stroke="#000" stroke-width="1.8"/>
<path d="M38.3,242 L45.2,267 L31.6,267 Z" fill="#000"/>
</svg></div>
</body></html>
